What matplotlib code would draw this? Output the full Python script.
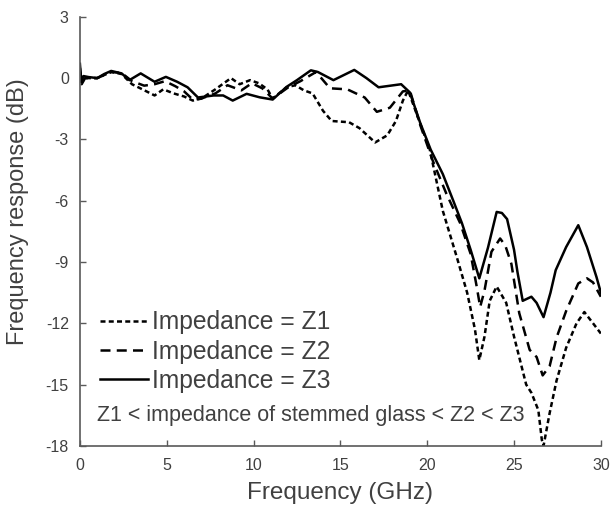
import matplotlib
matplotlib.use("Agg")
import matplotlib.pyplot as plt
import numpy as np

plt.rcParams['font.family'] = ['Liberation Sans', 'DejaVu Sans']
plt.rcParams['axes.unicode_minus'] = False

# frequency (GHz) / response (dB)
f_z1 = [0, 0.1, 0.3, 1.0, 1.8, 2.4, 3.0, 3.6, 4.3, 4.8, 5.4, 6.0, 6.5, 7.0, 7.8, 8.7,
        9.2, 9.8, 10.3, 10.8, 11.1, 11.9, 12.4, 12.9, 13.4, 14.0, 14.5, 15.5, 16.1,
        17.0, 17.7, 18.2, 18.6, 18.9, 19.5, 20.15, 20.9, 21.7, 22.3, 22.75, 23.0,
        23.3, 23.6, 24.0, 24.55, 25.0, 25.7, 26.0, 26.4, 26.6, 26.7, 27.05, 27.45,
        28.0, 28.6, 29.05, 29.55, 30]
r_z1 = [0.3, -0.2, 0.0, 0.0, 0.3, 0.2, -0.3, -0.55, -0.85, -0.55, -0.75, -0.9, -1.1,
        -1.0, -0.55, 0.0, -0.3, -0.1, -0.25, -0.55, -1.0, -0.45, -0.35, -0.6, -0.75,
        -1.6, -2.1, -2.16, -2.45, -3.15, -2.8, -2.1, -1.1, -0.6, -2.0, -3.5, -6.5,
        -8.75, -10.5, -12.3, -13.8, -12.65, -10.9, -10.2, -11.0, -12.65, -15.0, -15.4,
        -16.25, -17.7, -18.0, -16.4, -14.8, -13.2, -12.0, -11.45, -12.0, -12.5]

f_z2 = [0, 0.1, 0.3, 1.0, 1.8, 2.4, 3.0, 3.7, 4.3, 4.9, 5.5, 6.0, 6.5, 7.0, 7.8, 8.5,
        9.3, 9.9, 10.5, 11.1, 12.0, 12.7, 13.6, 14.4, 15.4, 16.4, 17.1, 17.85, 18.6,
        19.0, 19.6, 20.3, 21.1, 21.9, 22.5, 22.85, 23.05, 23.3, 23.7, 24.2, 24.5,
        24.85, 25.3, 25.9, 26.3, 26.65, 27.05, 27.45, 28.0, 28.7, 29.2, 29.55, 30]
r_z2 = [0.5, -0.3, 0.0, 0.0, 0.3, 0.25, -0.15, -0.37, -0.3, -0.15, -0.4, -0.65, -1.05,
        -1.0, -0.75, -0.35, -0.6, -0.25, -0.5, -1.0, -0.45, -0.15, 0.3, -0.5, -0.55,
        -0.95, -1.65, -1.45, -0.65, -0.6, -2.3, -4.0, -5.65, -7.1, -8.6, -10.2, -11.2,
        -10.4, -8.5, -7.85, -8.2, -9.1, -11.5, -13.3, -13.65, -14.55, -14.1, -12.7,
        -11.4, -10.05, -9.8, -10.0, -10.7]

f_z3 = [0, 0.08, 0.2, 0.5, 1.0, 1.4, 1.8, 2.4, 2.85, 3.5, 4.3, 4.95, 5.6, 6.2, 6.8,
        7.7, 8.25, 8.8, 9.6, 10.35, 11.1, 11.9, 12.5, 13.3, 13.7, 14.6, 15.8, 16.5,
        17.2, 18.5, 19.0, 19.6, 20.2, 20.9, 21.5, 22.0, 22.5, 23.0, 23.5, 24.0, 24.3,
        24.6, 25.0, 25.2, 25.5, 26.0, 26.3, 26.7, 27.1, 27.4, 28.0, 28.7, 29.2,
        29.75, 30]
r_z3 = [0.7, -0.2, 0.1, 0.05, 0.0, 0.2, 0.35, 0.23, -0.1, 0.23, -0.18, 0.06, -0.18,
        -0.45, -0.95, -0.85, -0.85, -1.1, -0.77, -0.94, -1.05, -0.43, -0.1, 0.38, 0.3,
        -0.1, 0.4, 0.0, -0.45, -0.3, -0.7, -2.2, -3.5, -4.7, -6.0, -7.1, -8.4, -9.8,
        -8.3, -6.55, -6.6, -6.9, -8.4, -9.5, -10.9, -10.7, -11.0, -11.7, -10.5, -9.4,
        -8.27, -7.2, -8.27, -9.74, -10.5]

labels = ['Impedance = Z1', 'Impedance = Z2', 'Impedance = Z3']
note = 'Z1 < impedance of stemmed glass < Z2 < Z3'
xticks = [0, 5, 10, 15, 20, 25, 30]
yticks = [-18, -15, -12, -9, -6, -3, 0, 3]

txt = '#404040'
fig = plt.figure(figsize=(6.10, 5.09), dpi=100)
ax = fig.add_axes([0.131, 0.124, 0.854, 0.843])

ax.plot(f_z1, r_z1, color='black', lw=1.8, dashes=(2.0, 1.3), label=labels[0])
ax.plot(f_z2, r_z2, color='black', lw=1.8, dashes=(4.0, 2.5), label=labels[1])
ax.plot(f_z3, r_z3, color='black', lw=1.8, label=labels[2])

ax.set_xlim(0, 30)
ax.set_ylim(-18, 3)
ax.set_xticks(xticks)
ax.set_yticks(yticks)
ax.tick_params(direction='in', length=4, width=1, colors='#595959',
               labelcolor=txt, labelsize=11.5)
ax.tick_params(axis='y', pad=8)
ax.tick_params(axis='x', pad=9)
for s in ['top', 'right']:
    ax.spines[s].set_visible(False)
for s in ['left', 'bottom']:
    ax.spines[s].set_color('#595959')
    ax.spines[s].set_linewidth(1.2)

ax.set_xlabel('Frequency (GHz)', fontsize=17.5, color=txt, labelpad=6)
ax.set_ylabel('Frequency response (dB)', fontsize=17, color=txt)
ax.yaxis.set_label_coords(-0.097, 0.545)

leg = ax.legend(loc='upper left', bbox_to_anchor=(0.02, 0.339), frameon=False,
                fontsize=17.7, handlelength=1.95, handletextpad=0.16,
                labelspacing=0.22, borderaxespad=0)
for t in leg.get_texts():
    t.set_color(txt)

ax.text(0.033, 0.07, note, transform=ax.transAxes, fontsize=15.5, color=txt,
        va='center', ha='left')

fig.savefig('out.png', dpi=100)
